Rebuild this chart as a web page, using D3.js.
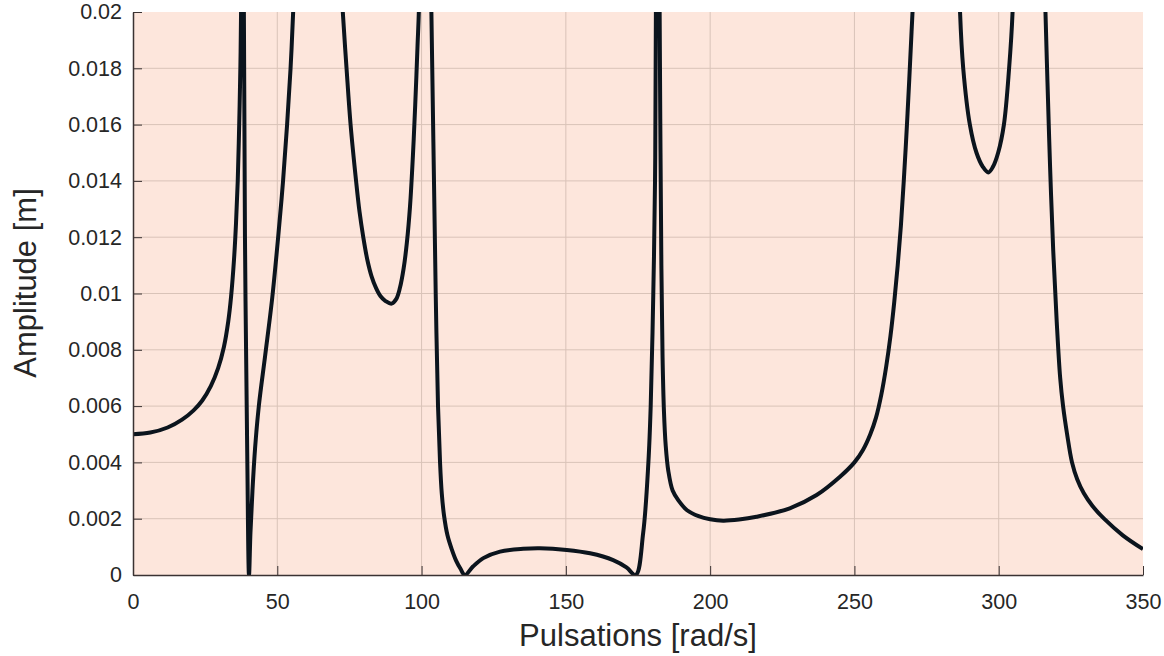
<!DOCTYPE html>
<html>
<head>
<meta charset="utf-8">
<script src="https://cdn.jsdelivr.net/npm/d3@7"></script>
<style>
  body { margin: 0; background: #fff; }
  svg { display: block; font-family: "Liberation Sans", Arial, Helvetica, sans-serif; }
  .grid line { stroke: #d9c3b8; stroke-width: 1; }
  .axis path, .axis line { stroke: #3a3232; }
  .axis text { fill: #262626; font-size: 21.5px; }
  .label { fill: #262626; font-size: 31px; }
</style>
</head>
<body>
<svg width="1164" height="656"></svg>
<script>
// frequency response (peaks go past the top and are clipped)
const pulsation = [0, 6, 12, 17, 21, 24, 27, 29.5, 31.5, 33, 34, 35, 35.7, 36.3, 36.8, 37.2, 37.5, 37.9, 38.4, 38.8, 39.6, 40.2,
  40.7, 41.4, 42.3, 43.6, 45.8, 48.2, 50.3, 52, 53.4, 54.6, 55.5, 55.8, 64, 72.5, 72.7, 74, 75.4, 77.3, 78.5, 79.8, 81.2, 82.7, 84.2, 85.8, 87.5, 89.6,
  91.2, 92.5, 93.8, 94.9, 96, 97, 97.8, 98.6, 99.2, 101, 103.2, 103.4, 103.7, 104.3, 104.9, 105.7, 106.4, 107, 107.8, 109, 110.5, 112,
  113.5, 115, 117.8, 121.4, 127.2, 135.2, 141, 150.3, 158.4, 166.4, 171, 174.2, 176.8, 178.6, 179.4, 180.3, 180.9, 181.2, 181.8,
  182.5, 182.8, 183.1, 183.5, 184, 184.6, 185.5, 187, 189, 192, 196, 200, 204.5, 210, 216.1, 227.6, 236.9, 245, 250,
  253, 255.5, 257.5, 259.3, 261, 262.5, 263.8, 265, 266.1, 267.1, 268.1, 269, 269.8, 270.5, 279, 286.4, 286.6, 287.7, 290, 292.3, 294.5, 296.4, 298, 299.8,
  301.8, 303.6, 304.8, 305, 310, 316, 316.2, 316.9, 317.8, 318.9, 320.1, 321.3, 322.3, 323.7, 325.4, 327.2, 329.5, 332.5, 336.5, 343, 350]
const amplitude = [0.0050, 0.00506, 0.00524, 0.00552, 0.00585, 0.0062, 0.00672, 0.00735, 0.0081, 0.0090, 0.0099, 0.0112, 0.0125, 0.014, 0.016, 0.018, 0.0205, 0.03, 0.0205, 0.012, 0.0042, 0,
  0.0015, 0.003, 0.0045, 0.006, 0.0078, 0.0098, 0.012, 0.014, 0.016, 0.018, 0.020, 0.021, 0.05, 0.0205, 0.020, 0.018, 0.016, 0.014, 0.0129, 0.0120, 0.0112, 0.0106, 0.0102, 0.0099, 0.00973, 0.00964,
  0.0098, 0.0102, 0.0109, 0.0118, 0.0131, 0.0149, 0.0167, 0.0188, 0.0206, 0.05, 0.0205, 0.020, 0.018, 0.014, 0.010, 0.006, 0.004, 0.0029, 0.0021, 0.0014, 0.0009, 0.0005,
  0.00022, 0, 0.0003, 0.0006, 0.00083, 0.00093, 0.00095, 0.00089, 0.00077, 0.00053, 0.00027, 0, 0.0015, 0.004, 0.006, 0.010, 0.014, 0.020, 0.04,
  0.020, 0.015, 0.011, 0.0078, 0.0058, 0.0046, 0.0037, 0.0030, 0.00265, 0.0023, 0.00209, 0.00198, 0.00193, 0.00197, 0.00207, 0.00237, 0.00284, 0.00349, 0.0040,
  0.00445, 0.0050, 0.0056, 0.0064, 0.0074, 0.0085, 0.0097, 0.0110, 0.0124, 0.0140, 0.0158, 0.0176, 0.0193, 0.0209, 0.05, 0.021, 0.020, 0.018, 0.016, 0.015, 0.0145, 0.0143, 0.0145, 0.015,
  0.016, 0.018, 0.020, 0.021, 0.05, 0.021, 0.020, 0.0175, 0.0145, 0.0115, 0.009, 0.0070, 0.0060, 0.0050, 0.0040, 0.0034, 0.0029, 0.00245, 0.0020, 0.00141, 0.00092]

const xTicks = [0, 50, 100, 150, 200, 250, 300, 350]
const yTicks = [0, 0.002, 0.004, 0.006, 0.008, 0.01, 0.012, 0.014, 0.016, 0.018, 0.02]

const svg = d3.select("svg"),
      margin = {top: 12, right: 21, bottom: 81, left: 133},
      width = svg.attr("width") - margin.left - margin.right,
      height = svg.attr("height") - margin.top - margin.bottom,
      g = svg.append("g").attr("transform", "translate(" + margin.left + "," + margin.top + ")")

const x = d3.scaleLinear().domain([0, 350]).range([0, width]),
      y = d3.scaleLinear().domain([0, 0.02]).range([height, 0])

const data = pulsation.map((p, i) => ({p: p, a: amplitude[i]}))

g.append("rect")
  .attr("width", width)
  .attr("height", height)
  .attr("fill", "#fde6dc")

svg.append("clipPath").attr("id", "plot-clip")
  .append("rect").attr("width", width).attr("height", height)

// grid
g.append("g").attr("class", "grid")
  .selectAll("line").data(xTicks.slice(1, -1)).enter().append("line")
    .attr("x1", d => x(d)).attr("x2", d => x(d))
    .attr("y1", 0).attr("y2", height)

g.append("g").attr("class", "grid")
  .selectAll("line").data(yTicks.slice(1, -1)).enter().append("line")
    .attr("x1", 0).attr("x2", width)
    .attr("y1", d => y(d)).attr("y2", d => y(d))

const line = d3.line()
  .x(d => x(d.p))
  .y(d => y(d.a))
  .curve(d3.curveCatmullRom.alpha(0.5))

g.append("path")
  .datum(data)
  .attr("clip-path", "url(#plot-clip)")
  .attr("fill", "none")
  .attr("stroke", "#0b141d")
  .attr("stroke-width", 4)
  .attr("stroke-linejoin", "round")
  .attr("d", line)

// axes, ticks point inward like matlab
g.append("g")
  .attr("class", "axis axis--x")
  .attr("transform", "translate(0," + height + ")")
  .call(d3.axisBottom(x).tickValues(xTicks).tickSizeInner(-9).tickSizeOuter(0).tickPadding(19))

g.append("g")
  .attr("class", "axis axis--y")
  .call(d3.axisLeft(y).tickValues(yTicks).tickSizeInner(-9).tickSizeOuter(0).tickPadding(11)
    .tickFormat(d => d === 0 ? "0" : String(+d.toFixed(3))))

g.selectAll(".axis path").attr("stroke-width", 1.5)

svg.append("text")
  .attr("class", "label")
  .attr("x", margin.left + width / 2)
  .attr("y", 646)
  .attr("text-anchor", "middle")
  .text("Pulsations [rad/s]")

svg.append("text")
  .attr("class", "label")
  .attr("transform", "translate(36,283) rotate(-90)")
  .attr("text-anchor", "middle")
  .text("Amplitude [m]")
</script>
</body>
</html>
